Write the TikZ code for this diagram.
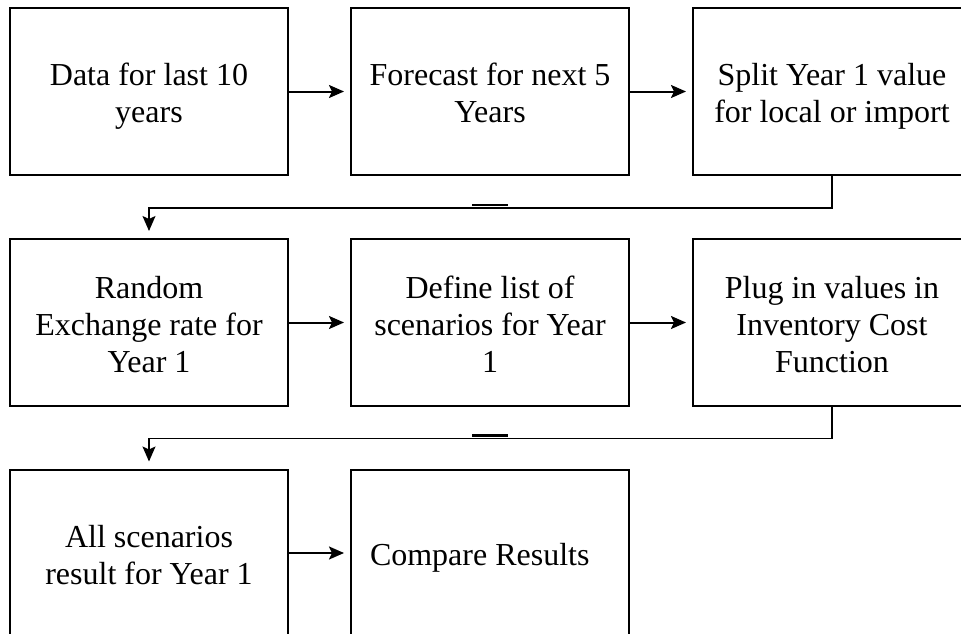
\documentclass[tikz,border=0pt]{standalone}
\usepackage{fontspec}
\setmainfont{Liberation Serif}
\usepackage{tikz}
\usetikzlibrary{arrows.meta, positioning}
\newcommand{\topstrut}{\rule{0pt}{32pt}}
\newcommand{\botstrut}{\rule[-7pt]{0pt}{7pt}}
\tikzstyle{block} = [rectangle, draw, line width=2pt, fill=white,
  minimum width=278pt, minimum height=167pt, inner sep=0pt,
  text width=270pt, align=flush center, font=\fontsize{32}{37}\selectfont,
  execute at begin node=\topstrut, execute at end node=\botstrut]
\tikzstyle{arrow} = [line width=2pt, shorten >=6pt, -{Stealth[length=15pt, width=13pt, inset=3pt]}]
\tikzstyle{elbow} = [line width=1.4pt, shorten >=7pt, -{Stealth[length=15pt, width=13pt, inset=3pt]}]
\tikzstyle{dashmark} = [line width=2.2pt]

\begin{document}
\begin{tikzpicture}[x=1pt, y=-1pt]
    \useasboundingbox (0,0) rectangle (961,634);
    \node[block] (data) at (149,91.5) {Data for last 10\\ years};
    \node[block, right=61pt of data] (fcast) {Forecast for next 5\\ Years};
    \node[block, right=62pt of fcast] (split) {Split Year 1 value\\ for local or import};
    \node[block, below=62pt of data] (rand) {Random\\ Exchange rate for\\ Year 1};
    \node[block, right=61pt of rand] (scen) {Define list of\\ scenarios for Year\\ 1};
    \node[block, right=62pt of scen] (plug) {Plug in values in\\ Inventory Cost\\ Function};
    \node[block, below=61.5pt of rand] (result) {All scenarios\\ result for Year 1};
    \node[block, right=61pt of result, text width=240pt, align=flush left] (comp) {Compare Results};
    \draw[arrow] (data) -- (fcast);
    \draw[arrow] (fcast) -- (split);
    \draw[elbow] (split.south) -- ++(0,32) -| (rand.north);
    \draw[dashmark] ([xshift=-18pt, yshift=-29pt]fcast.south) -- ++(36,0);
    \draw[arrow] (rand) -- (scen);
    \draw[arrow] (scen) -- (plug);
    \draw[elbow] (plug.south) -- ++(0,31.5) -| (result.north);
    \draw[dashmark] ([xshift=-18pt, yshift=-28.5pt]scen.south) -- ++(36,0);
    \draw[arrow] (result) -- (comp);
  \end{tikzpicture}
\end{document}
